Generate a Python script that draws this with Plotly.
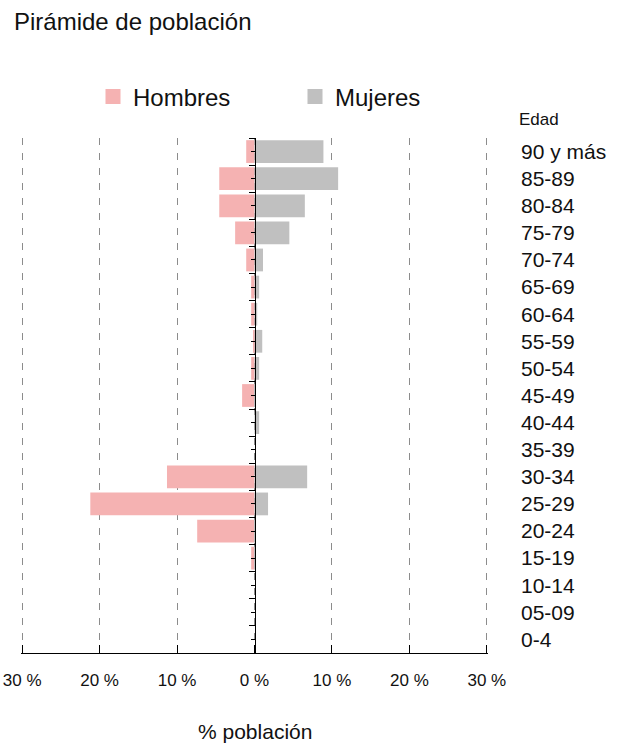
import plotly.graph_objects as go

# ---- data (bottom to top) ----
categorias = ["0-4", "05-09", "10-14", "15-19", "20-24", "25-29", "30-34", "35-39",
              "40-44", "45-49", "50-54", "55-59", "60-64", "65-69", "70-74", "75-79",
              "80-84", "85-89", "90 y más"]
hombres = [0, 0, 0, 0.43, 7.4, 21.2, 11.3, 0, 0, 1.6, 0.43, 0.13, 0.43, 0.43, 1.07, 2.5,
           4.55, 4.55, 1.07]
mujeres = [0, 0, 0, 0.1, 0.1, 1.75, 6.8, 0, 0.6, 0.15, 0.6, 1.0, 0.35, 0.6, 1.1, 4.5,
           6.5, 10.8, 8.9]
x_ticks = [-30, -20, -10, 0, 10, 20, 30]
x_ticktext = ["30 %", "20 %", "10 %", "0 %", "10 %", "20 %", "30 %"]

FONT = "Liberation Sans, Arial, sans-serif"
PINK = "#F5B2B2"
GREY = "#C0C0C0"

W, H = 620, 747
L, R, T, B = 21, 132, 138, 94
PW, PH = W - L - R, H - T - B   # plot area size

fig = go.Figure()
fig.add_trace(go.Bar(y=categorias, x=[-v for v in hombres], orientation="h",
                     marker=dict(color=PINK, line=dict(width=0)), name="Hombres",
                     showlegend=False, customdata=hombres,
                     hovertemplate="%{y}: %{customdata} %<extra>Hombres</extra>"))
fig.add_trace(go.Bar(y=categorias, x=mujeres, orientation="h",
                     marker=dict(color=GREY, line=dict(width=0)), name="Mujeres",
                     showlegend=False,
                     hovertemplate="%{y}: %{x} %<extra>Mujeres</extra>"))
# legend entries
fig.add_trace(go.Scatter(x=[None], y=[None], mode="markers", name="Hombres",
                         marker=dict(symbol="square", size=15, color=PINK)))
fig.add_trace(go.Scatter(x=[None], y=[None], mode="markers", name="Mujeres",
                         marker=dict(symbol="square", size=15, color=GREY)))
# helper trace for the tick axis at zero
fig.add_trace(go.Scatter(x=[0], y=[0], yaxis="y2", mode="markers",
                         marker=dict(opacity=0), showlegend=False, hoverinfo="skip"))

fig.update_layout(
    width=W, height=H,
    margin=dict(l=L, r=R, t=T, b=B, autoexpand=False),
    paper_bgcolor="white", plot_bgcolor="white",
    font=dict(family=FONT, color="#111111"),
    barmode="overlay", bargap=0.16,
    title=dict(text="Pirámide de población", xref="container", yref="container",
               x=14 / W, xanchor="left", y=1 - 22 / H, yanchor="middle",
               font=dict(size=24, family=FONT, color="#111111")),
    xaxis=dict(range=[-30.15, 30.15], tickmode="array", tickvals=x_ticks, ticktext=x_ticktext,
               showgrid=True, gridcolor="#8c8c8c", griddash="7px,8px", gridwidth=1,
               zeroline=False, showline=True, linecolor="black", linewidth=1,
               ticks="inside", ticklen=8, tickcolor="black", tickwidth=1,
               tickfont=dict(size=17), ticklabelstandoff=12, ticklabeloverflow="allow",
               fixedrange=True),
    yaxis=dict(type="category", categoryorder="array", categoryarray=categorias,
               side="right", showline=False, ticks="", showgrid=False,
               tickfont=dict(size=21), ticklabelstandoff=32,
               range=[-0.5, 18.5], fixedrange=True),
    yaxis2=dict(overlaying="y", anchor="free", position=0.5, side="left",
                range=[-0.5, 18.5], showgrid=False, zeroline=False,
                showline=True, linecolor="black", linewidth=1,
                tickmode="linear", tick0=-0.5, dtick=1, ticks="outside",
                ticklen=6, tickcolor="black", showticklabels=False,
                minor=dict(tickmode="linear", tick0=0, dtick=1, ticks="outside",
                           ticklen=4, tickcolor="black", showgrid=False),
                fixedrange=True),
    legend=dict(orientation="h", x=(93 - L) / PW, xanchor="left",
                y=(PH + T - 97) / PH, yanchor="middle", font=dict(size=24),
                entrywidth=157, itemsizing="trace", bgcolor="rgba(0,0,0,0)"),
    annotations=[
        dict(text="Edad", xref="paper", yref="paper", x=(517 - L) / PW, y=(PH + T - 119) / PH,
             xanchor="left", yanchor="middle", showarrow=False, font=dict(size=17)),
        dict(text="% población", xref="paper", yref="paper", x=0.5, y=(PH + T - 731) / PH,
             xanchor="center", yanchor="middle", showarrow=False, font=dict(size=21)),
    ],
)

fig.write_html("out.html", config={"displayModeBar": False},
               post_script="document.body.style.margin='0px';")
